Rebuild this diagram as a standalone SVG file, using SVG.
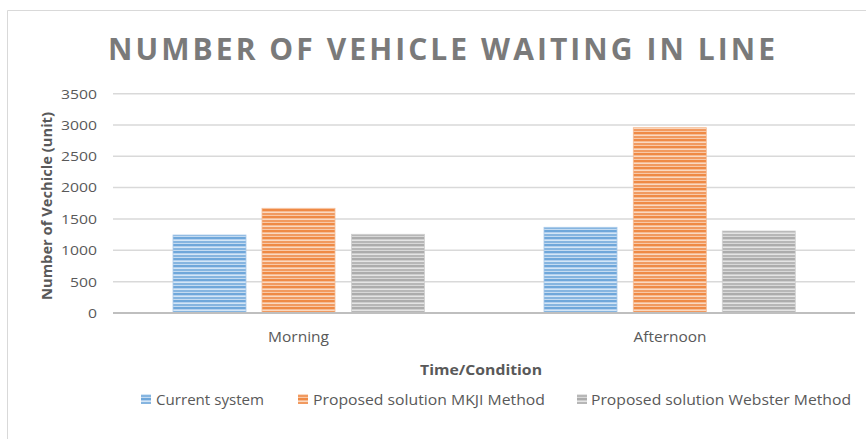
<svg xmlns="http://www.w3.org/2000/svg" width="866" height="439" viewBox="0 0 866 439">
<style>
.lbl{font-family:"Open Sans","Liberation Sans",sans-serif;fill:#595959;font-size:14px}
.tick{font-family:"Open Sans","Liberation Sans",sans-serif;fill:#595959;font-size:13.5px;text-anchor:end}
.bold{font-weight:bold}
.grid{stroke:#d9d9d9;stroke-width:1.5}
</style>
<defs>
<pattern id="pBlue" patternUnits="userSpaceOnUse" width="10" height="7">
<rect width="10" height="7" fill="#6fa7da"/>
<rect y="1" width="10" height="1" fill="#b3d0ee"/>
<rect y="2" width="10" height="1" fill="#d4e6f6"/>
<rect y="3.5" width="10" height="1" fill="#9dc3e6"/>
<rect y="5" width="10" height="1" fill="#c4dbf1"/>
</pattern>
<pattern id="pOrange" patternUnits="userSpaceOnUse" width="10" height="7">
<rect width="10" height="7" fill="#ef8a45"/>
<rect y="1" width="10" height="1" fill="#f6bb93"/>
<rect y="2" width="10" height="1" fill="#fad9c1"/>
<rect y="3.5" width="10" height="1" fill="#f4ab7a"/>
<rect y="5" width="10" height="1" fill="#f8c9a8"/>
</pattern>
<pattern id="pGray" patternUnits="userSpaceOnUse" width="10" height="7">
<rect width="10" height="7" fill="#acacac"/>
<rect y="1" width="10" height="1" fill="#cdcdcd"/>
<rect y="2" width="10" height="1" fill="#e4e4e4"/>
<rect y="3.5" width="10" height="1" fill="#c2c2c2"/>
<rect y="5" width="10" height="1" fill="#d8d8d8"/>
</pattern>
</defs>
<rect width="866" height="439" fill="#ffffff"/>
<path d="M7.5 439 V10.5 H866" fill="none" stroke="#d9d9d9" stroke-width="1"/>
<g id="title">
<text x="108" y="60" textLength="667" lengthAdjust="spacing" font-family="'Open Sans','Liberation Sans',sans-serif" font-weight="bold" font-size="30" fill="#7a7a7a">NUMBER OF VEHICLE WAITING IN LINE</text>
</g>
<g id="gridlines">
<line class="grid" x1="113" y1="93.7" x2="855" y2="93.7"/>
<line class="grid" x1="113" y1="125" x2="855" y2="125"/>
<line class="grid" x1="113" y1="156.3" x2="855" y2="156.3"/>
<line class="grid" x1="113" y1="187.6" x2="855" y2="187.6"/>
<line class="grid" x1="113" y1="219" x2="855" y2="219"/>
<line class="grid" x1="113" y1="250.3" x2="855" y2="250.3"/>
<line class="grid" x1="113" y1="281.7" x2="855" y2="281.7"/>
</g>
<g id="y-ticks">
<text class="tick" x="97" y="98.5" textLength="36" lengthAdjust="spacingAndGlyphs">3500</text>
<text class="tick" x="97" y="129.8" textLength="36" lengthAdjust="spacingAndGlyphs">3000</text>
<text class="tick" x="97" y="161.1" textLength="36" lengthAdjust="spacingAndGlyphs">2500</text>
<text class="tick" x="97" y="192.4" textLength="36" lengthAdjust="spacingAndGlyphs">2000</text>
<text class="tick" x="97" y="223.8" textLength="36" lengthAdjust="spacingAndGlyphs">1500</text>
<text class="tick" x="97" y="255.1" textLength="36" lengthAdjust="spacingAndGlyphs">1000</text>
<text class="tick" x="97" y="286.5" textLength="27" lengthAdjust="spacingAndGlyphs">500</text>
<text class="tick" x="97" y="317.8" textLength="9" lengthAdjust="spacingAndGlyphs">0</text>
</g>
<g id="series-current">
<rect x="173" y="235" width="73" height="78" fill="url(#pBlue)" stroke="#a9c9e9" stroke-width="0.8"/>
<rect x="544" y="227.3" width="73" height="85.7" fill="url(#pBlue)" stroke="#a9c9e9" stroke-width="0.8"/>
</g>
<g id="series-mkji">
<rect x="262" y="208.3" width="73" height="104.7" fill="url(#pOrange)" stroke="#f6bb93" stroke-width="0.8"/>
<rect x="633.3" y="127.7" width="73" height="185.3" fill="url(#pOrange)" stroke="#f6bb93" stroke-width="0.8"/>
</g>
<g id="series-webster">
<rect x="351.5" y="234.3" width="73" height="78.7" fill="url(#pGray)" stroke="#cfcfcf" stroke-width="0.8"/>
<rect x="722.3" y="231" width="73" height="82" fill="url(#pGray)" stroke="#cfcfcf" stroke-width="0.8"/>
</g>
<g id="x-axis">
<line x1="113" y1="313" x2="855" y2="313" stroke="#bfbfbf" stroke-width="2.2"/>
<text class="lbl" x="298.5" y="342" text-anchor="middle" textLength="61" lengthAdjust="spacingAndGlyphs">Morning</text>
<text class="lbl" x="670" y="342" text-anchor="middle" textLength="73" lengthAdjust="spacingAndGlyphs">Afternoon</text>
</g>
<g id="axis-titles">
<text class="lbl bold" x="481" y="375" text-anchor="middle" textLength="122" lengthAdjust="spacingAndGlyphs">Time/Condition</text>
<text class="lbl bold" transform="translate(52 206) rotate(-90)" x="0" y="0" text-anchor="middle" font-size="13.5" textLength="188" lengthAdjust="spacingAndGlyphs">Number of Vechicle (unit)</text>
</g>
<g id="legend">
<rect x="141" y="394" width="10" height="10" fill="url(#pBlue)"/>
<text class="lbl" x="156" y="405" textLength="108" lengthAdjust="spacingAndGlyphs">Current system</text>
<rect x="298" y="394" width="10" height="10" fill="url(#pOrange)"/>
<text class="lbl" x="313" y="405" textLength="232" lengthAdjust="spacingAndGlyphs">Proposed solution MKJI Method</text>
<rect x="577" y="394" width="10" height="10" fill="url(#pGray)"/>
<text class="lbl" x="591" y="405" textLength="260" lengthAdjust="spacingAndGlyphs">Proposed solution Webster Method</text>
</g>
</svg>
